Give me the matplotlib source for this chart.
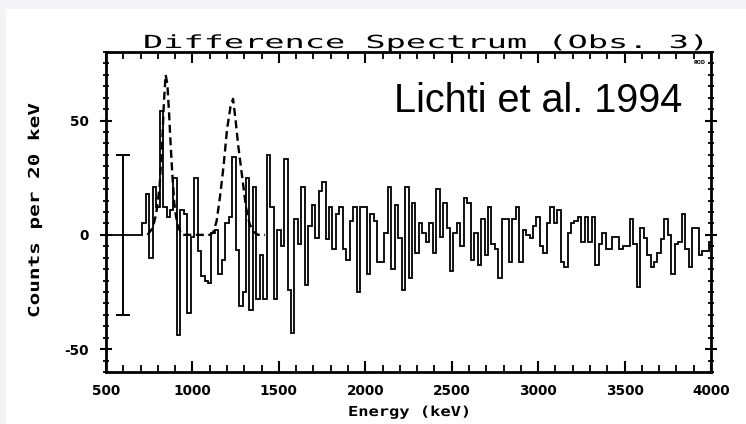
import numpy as np
import matplotlib
matplotlib.use("Agg")
import matplotlib.pyplot as plt
from matplotlib.patches import Rectangle
from matplotlib.patheffects import AbstractPathEffect
from matplotlib.transforms import Affine2D

plt.rcParams["axes.unicode_minus"] = False

# Difference spectrum: counts per 20 keV bin, first bin starts at 710 keV
bin_start_kev = 710
bin_width_kev = 20
counts = [
    5, 18, -10, 21, 12, 54, 12, 8, 11, 25, -44, 11, 9, -34, -1, 25, -7, -18, -20, -21,
    1, 2, -17, -11, 5,
    8, 34, -6.5, -31, -25, 25, -33, 21, -28, -9, -28, 35, 12, -28, 2, -5, 33, -24, -43, 7,
    -4, 21, -22, 4, 13, -1.5, 19, 23,
    -2, 12, -6, 9, 12, -6, -11, 6, 12, -25, 12, 12, -17, 9, 6, -12, -12, 1, 21, -15,
    13, -1.5, -24, 21, -19,
    14,
    -8, 5, 1, -3, 5, -8, 20, -1, 14, 3, -16, 1, 5, -5, 16, 14, -11, 1, -13, 7,
    -9, 12, -4, -6, -19,
    7, 7,
    -12, 7, 12, -12, 2, 0, -1.5, 4, 8, -5, -8, 5, 12, 5, 11, -12, -14, 1, 5, 6,
    8, -3, 8, -3, 8, -13, -4,
    1, -6, -6, -1, -1, -6, -5, -5, 7, -4, -23, 3, -1.5, -9, -14, -12, -8, -2, 7, 0,
    -17, -4, -3, 9, -6, -14, 3, 3, -9, -7, -7, -3,
]

# Expected line profiles (dashed curve)
model_energy = [740, 770, 790, 810, 825, 835, 845, 855, 865, 875, 885, 895, 905, 920,
                940, 1000, 1050, 1100, 1120, 1140, 1160, 1180, 1200, 1220, 1235, 1250,
                1265, 1280, 1295, 1310, 1330, 1350, 1380, 1420]
model_counts = [0, 3, 9, 21, 40, 58, 70, 66, 53, 38, 25, 14, 8, 3,
                0, 0, 0, 0, 1, 6, 17, 30, 46, 56, 59.5, 50,
                39, 30, 21, 12, 5, 1.5, 0, 0]

# Representative 1-sigma error bar
err_energy = 600
err_sigma = 35

x_major = [500, 1000, 1500, 2000, 2500, 3000, 3500, 4000]
y_major = [-50, 0, 50]


class HStretch(AbstractPathEffect):
    """Widen glyphs along the writing direction (pen-plotter lettering)."""

    def __init__(self, sx):
        super().__init__()
        self._sx = sx

    def draw_path(self, renderer, gc, tpath, affine, rgbFace=None):
        renderer.draw_path(gc, tpath, Affine2D().scale(self._sx, 1.0) + affine, rgbFace)


W, H = 746, 424
fig = plt.figure(figsize=(W / 100, H / 100), dpi=100)
fig.patch.set_facecolor("white")

# faint page margin along the top and left edges
fig.add_artist(Rectangle((0, 1 - 9 / H), 1, 9 / H, transform=fig.transFigure,
                         facecolor="#f3f3f8", edgecolor="none", zorder=0))
fig.add_artist(Rectangle((0, 0), 6 / W, 1, transform=fig.transFigure,
                         facecolor="#f3f3f8", edgecolor="none", zorder=0))

ax = fig.add_axes([106 / W, 1 - 372 / H, (711 - 106) / W, (372 - 52) / H])
ax.set_xlim(500, 4000)
ax.set_ylim(-60, 80)

edges = bin_start_kev + bin_width_kev * np.arange(len(counts) + 1)
ax.plot([500, bin_start_kev], [0, 0], color="black", lw=1.3)
ax.stairs(counts, edges, baseline=0, color="black", lw=1.3)
ax.plot(model_energy, model_counts, color="black", lw=1.7, dashes=(3.4, 1.9))
ax.errorbar([err_energy], [0], yerr=[err_sigma], fmt="none", ecolor="black",
            elinewidth=1.4, capsize=5, capthick=1.4)

for s in ax.spines.values():
    s.set_linewidth(2.0)

ax.set_xticks(x_major)
ax.set_xticks(np.arange(500, 4001, 100), minor=True)
ax.set_yticks(y_major)
ax.set_yticks(np.arange(-60, 81, 5), minor=True)
ax.tick_params(axis="x", which="both", direction="in", top=True, bottom=True)
ax.tick_params(axis="y", which="both", direction="inout", left=True, right=True)
ax.tick_params(which="major", length=8, width=1.5)
ax.tick_params(which="minor", length=5, width=1.3)
ax.tick_params(axis="y", which="major", pad=8.6)
ax.tick_params(axis="x", which="major", pad=8.5)
for lab in ax.get_xticklabels() + ax.get_yticklabels():
    lab.set_fontfamily("DejaVu Sans")
    lab.set_fontweight("bold")
    lab.set_fontsize(9.8)

mono = "DejaVu Sans Mono"
fig.text(143 / W, 1 - 48 / H, "Difference Spectrum (Obs. 3)", family=mono,
         fontsize=13, ha="left", va="baseline",
         path_effects=[HStretch(1.86)])
fig.text(39 / W, 1 - 318 / H, "Counts per 20 keV", family=mono, weight="bold",
         fontsize=10.8, rotation=90, rotation_mode="anchor",
         ha="left", va="baseline", path_effects=[HStretch(1.40)])
fig.text(348 / W, 1 - 416 / H, "Energy (keV)", family=mono, weight="bold",
         fontsize=9.9, ha="left", va="baseline",
         path_effects=[HStretch(1.24)])

ax.text(3936, 75.2, "ROD", fontsize=3.5, weight="bold", family="DejaVu Sans",
        ha="center", va="center")
fig.text(394 / W, 1 - 112 / H, "Lichti et al. 1994",
         family="Liberation Sans", fontsize=28.5, ha="left", va="baseline")

fig.savefig("out.png", dpi=100)
